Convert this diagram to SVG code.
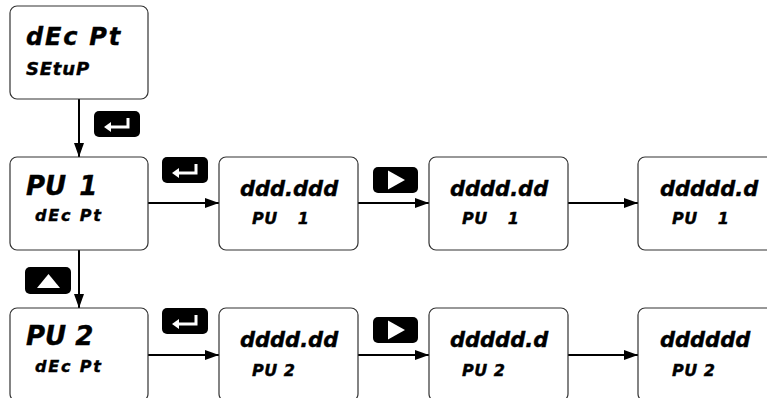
<svg xmlns="http://www.w3.org/2000/svg" width="767" height="398" viewBox="0 0 767 398">
<style>
.box{fill:#fff;stroke:#333;stroke-width:1.2}
.t{font-family:"DejaVu Sans",sans-serif;font-weight:bold;font-style:italic;fill:#000;stroke:#000;stroke-width:0.4}
.big{font-size:26px}
.title{font-size:24px;letter-spacing:1.8px}
.val{font-size:21px}
.sub{font-size:16px;letter-spacing:1.8px}
.subp{font-size:16px;letter-spacing:0.5px}
.line{stroke:#000;stroke-width:2;fill:none}
.btn{fill:#000}
.gl{fill:#fff}
.gls{stroke:#fff;stroke-width:3;fill:none}
</style>
<defs>
<marker id="ah" viewBox="0 0 14 10" refX="14" refY="5" markerWidth="14" markerHeight="10" markerUnits="userSpaceOnUse" orient="auto">
<path d="M0,0 L14,5 L0,10 Z" fill="#000"/>
</marker>
<g id="enter">
<rect x="0" y="0" width="46" height="26" rx="5" class="btn"/>
<path d="M34,7 V16 H15" class="gls"/>
<path d="M10,16 L17,11 L17,21 Z" class="gl"/>
</g>
<g id="right">
<rect x="0" y="0" width="45" height="26" rx="5" class="btn"/>
<path d="M15,3.5 L15,22.5 L32,13 Z" class="gl"/>
</g>
<g id="up">
<rect x="0" y="0" width="46" height="27" rx="5" class="btn"/>
<path d="M12,21 L35,21 L23.5,7 Z" class="gl"/>
</g>
</defs>

<g id="connectors">
<line x1="79" y1="99" x2="79" y2="157" class="line" marker-end="url(#ah)"/>
<line x1="148" y1="203" x2="219" y2="203" class="line" marker-end="url(#ah)"/>
<line x1="358" y1="203" x2="429" y2="203" class="line" marker-end="url(#ah)"/>
<line x1="568" y1="203" x2="638" y2="203" class="line" marker-end="url(#ah)"/>
<line x1="79" y1="250" x2="79" y2="308" class="line" marker-end="url(#ah)"/>
<line x1="148" y1="355" x2="219" y2="355" class="line" marker-end="url(#ah)"/>
<line x1="358" y1="355" x2="429" y2="355" class="line" marker-end="url(#ah)"/>
<line x1="568" y1="355" x2="638" y2="355" class="line" marker-end="url(#ah)"/>
</g>

<g id="buttons">
<use href="#enter" x="94" y="111"/>
<use href="#enter" x="162" y="157"/>
<use href="#right" x="373" y="167"/>
<use href="#up" x="25" y="267"/>
<use href="#enter" x="162" y="308"/>
<use href="#right" x="373" y="317"/>
</g>

<g id="n-setup">
<rect x="10" y="6" width="138" height="93" rx="7" class="box"/>
<text x="26" y="45" class="t title">dEc Pt</text>
<text x="26" y="75" class="t" style="font-size:18px;letter-spacing:0.8px">SEtuP</text>
</g>

<g id="n-pu1">
<rect x="10" y="157" width="138" height="93" rx="7" class="box"/>
<text x="26" y="195" class="t big">PU <tspan dx="4">1</tspan></text>
<text x="35" y="221" class="t sub">dEc Pt</text>
</g>
<g id="n-pu1-a">
<rect x="219" y="157" width="139" height="93" rx="7" class="box"/>
<text x="240" y="196" class="t val">ddd.ddd</text>
<text x="252" y="224" class="t subp">PU <tspan dx="14">1</tspan></text>
</g>
<g id="n-pu1-b">
<rect x="429" y="157" width="139" height="93" rx="7" class="box"/>
<text x="450" y="196" class="t val">dddd.dd</text>
<text x="462" y="224" class="t subp">PU <tspan dx="14">1</tspan></text>
</g>
<g id="n-pu1-c">
<rect x="638" y="157" width="139" height="93" rx="7" class="box"/>
<text x="660" y="196" class="t val">ddddd.d</text>
<text x="672" y="224" class="t subp">PU <tspan dx="14">1</tspan></text>
</g>

<g id="n-pu2">
<rect x="10" y="308" width="138" height="93" rx="7" class="box"/>
<text x="26" y="345" class="t big">PU 2</text>
<text x="35" y="372" class="t sub">dEc Pt</text>
</g>
<g id="n-pu2-a">
<rect x="219" y="308" width="139" height="93" rx="7" class="box"/>
<text x="240" y="347" class="t val">dddd.dd</text>
<text x="252" y="376" class="t subp">PU 2</text>
</g>
<g id="n-pu2-b">
<rect x="429" y="308" width="139" height="93" rx="7" class="box"/>
<text x="450" y="347" class="t val">ddddd.d</text>
<text x="462" y="376" class="t subp">PU 2</text>
</g>
<g id="n-pu2-c">
<rect x="638" y="308" width="139" height="93" rx="7" class="box"/>
<text x="660" y="347" class="t val">dddddd</text>
<text x="672" y="376" class="t subp">PU 2</text>
</g>
</svg>
